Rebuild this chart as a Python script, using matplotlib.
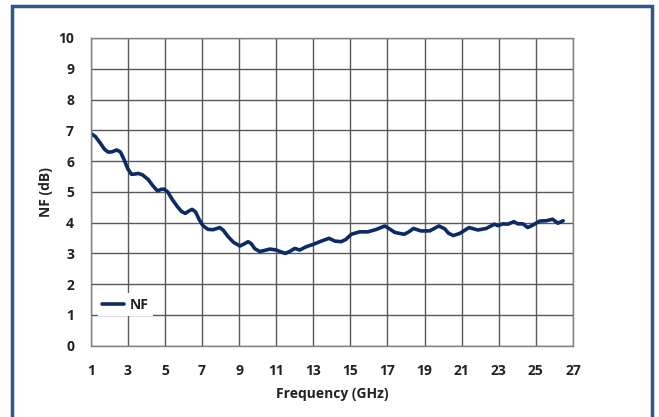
import matplotlib.pyplot as plt
from matplotlib.patches import Rectangle

# NF curve (GHz, dB)
freq = [1.0, 1.25, 1.5, 1.75, 1.95, 2.15, 2.4, 2.6, 2.8, 3.0, 3.2, 3.4, 3.56, 3.8,
        4.1, 4.35, 4.6, 4.8, 4.95, 5.15, 5.4, 5.7, 5.9, 6.1, 6.3, 6.47, 6.65, 6.85,
        7.05, 7.33, 7.6, 7.96, 8.15, 8.4, 8.7, 9.04, 9.25, 9.49, 9.65, 9.85, 10.12,
        10.4, 10.66, 11.0, 11.25, 11.5, 11.75, 12.0, 12.27, 12.63, 12.99, 13.35,
        13.85, 14.16, 14.5, 14.75, 15.05, 15.5, 15.95, 16.4, 16.85, 17.1, 17.4,
        17.9, 18.15, 18.4, 18.8, 19.27, 19.77, 20.08, 20.3, 20.55, 20.9, 21.4,
        21.87, 22.32, 22.77, 22.95, 23.22, 23.49, 23.81, 24.03, 24.3, 24.56, 24.84,
        25.2, 25.55, 25.9, 26.18, 26.47]
nf = [6.9, 6.8, 6.6, 6.38, 6.29, 6.3, 6.36, 6.3, 6.05, 5.75, 5.57, 5.58, 5.6, 5.55,
      5.4, 5.2, 5.03, 5.08, 5.09, 5.0, 4.75, 4.5, 4.36, 4.3, 4.38, 4.43, 4.35, 4.1,
      3.9, 3.78, 3.77, 3.84, 3.75, 3.55, 3.36, 3.24, 3.3, 3.38, 3.32, 3.15, 3.06,
      3.1, 3.14, 3.11, 3.05, 3.0, 3.07, 3.16, 3.11, 3.22, 3.29, 3.38,
      3.49, 3.4, 3.38, 3.45, 3.62, 3.7, 3.7, 3.78, 3.89, 3.8, 3.68,
      3.62, 3.7, 3.81, 3.73, 3.73, 3.89, 3.8, 3.65, 3.58, 3.65, 3.84,
      3.76, 3.81, 3.95, 3.9, 3.96, 3.95, 4.03, 3.96, 3.96, 3.84, 3.92,
      4.05, 4.06, 4.11, 3.98, 4.06]

x_ticks = list(range(1, 28, 2))
y_ticks = list(range(0, 11))

plt.rcParams['font.family'] = ['Open Sans', 'DejaVu Sans']

fig = plt.figure(figsize=(6.59, 4.17), dpi=100)
ax = fig.add_axes([0.1376, 0.171, 0.7319, 0.7379])

ax.plot(freq, nf, color='#0B2A66', lw=2.6, label='NF',
        solid_capstyle='round', solid_joinstyle='round')

ax.set_xlim(1, 27)
ax.set_ylim(0, 10)
ax.set_xticks(x_ticks)
ax.set_yticks(y_ticks)
ax.grid(True, color='#595959', lw=1)
ax.set_axisbelow(True)
for s in ax.spines.values():
    s.set_color('#808080')
    s.set_linewidth(1)
ax.tick_params(axis='x', length=0, labelsize=10, colors='#222222', pad=13)
ax.tick_params(axis='y', length=0, labelsize=10, colors='#222222', pad=12)
for lbl in ax.get_xticklabels() + ax.get_yticklabels():
    lbl.set_fontweight('bold')

ax.set_xlabel('Frequency (GHz)', fontsize=10, fontweight='bold', color='#222222', labelpad=7)
ax.set_ylabel('NF (dB)', fontsize=10, fontweight='bold', color='#222222', labelpad=4)

leg = ax.legend(loc='lower left', bbox_to_anchor=(0.0, 0.075), frameon=True,
                fancybox=False, edgecolor='none', facecolor='white', framealpha=1,
                fontsize=10, handlelength=1.6, handletextpad=0.4, borderpad=0.3)
for t in leg.get_texts():
    t.set_fontweight('bold')
    t.set_color('#222222')

# blue frame around the figure
fig.patches.append(Rectangle((12 / 659, -0.05), 640 / 659, 1.05 - 6 / 417,
                             transform=fig.transFigure, fill=False,
                             edgecolor='#2F5597', lw=2.5))

fig.savefig('out.png', dpi=100)
